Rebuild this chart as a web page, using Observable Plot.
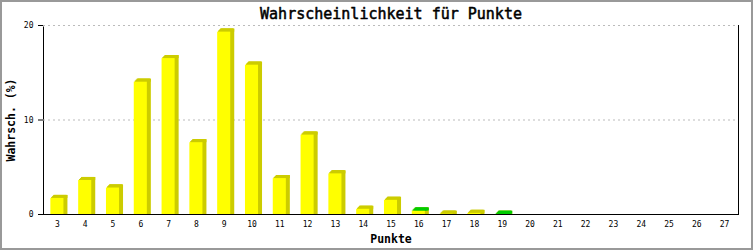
<!DOCTYPE html>
<html>
<head>
<meta charset="utf-8">
<script src="https://cdn.jsdelivr.net/npm/d3@7"></script>
<script src="https://cdn.jsdelivr.net/npm/@observablehq/plot@0.6"></script>
<style>
  html, body { margin: 0; padding: 0; background: #fff; }
  #chart svg { display: block; outline: 2px solid #999; outline-offset: -2px; }
</style>
</head>
<body>
<div id="chart"></div>
<script>
const title = "Wahrscheinlichkeit für Punkte";
const yLabel = "Wahrsch. (%)";
const xLabel = "Punkte";
const points = ["3","4","5","6","7","8","9","10","11","12","13","14","15","16","17","18","19","20","21","22","23","24","25","26","27"];
const yellowValues = [1.7, 3.6, 2.8, 14.0, 16.5, 7.6, 19.3, 15.8, 3.8, 8.4, 4.3, 0.55, 1.5, 0.35, 0.03, 0.12, 0, 0, 0, 0, 0, 0, 0, 0, 0];
const greenValues  = [0, 0, 0, 0, 0, 0, 0, 0, 0, 0, 0, 0, 0, 0.03, 0, 0, 0.03, 0, 0, 0, 0, 0, 0, 0, 0];
const yTicks = [0, 10, 20];

const YELLOW = "#ffff00", OLIVE = "#cccc00", GREEN = "#00cc00";

const rows = points.map((p, i) => ({
  p,
  yellow: yellowValues[i],
  green: greenValues[i],
  total: yellowValues[i] + greenValues[i],
  topFill: greenValues[i] > 0 ? GREEN : OLIVE
})).filter(d => d.total > 0);

const offsets = [[1,1],[2,2],[3,3],[4,3]];

const sideMarks = offsets.map(([k, d]) =>
  Plot.barY(rows, {x: "p", y1: 0, y2: "total", fill: OLIVE, dx: k, dy: -d, insetBottom: -d}));
const topMarks = offsets.map(([k, d]) =>
  Plot.barY(rows, {x: "p", y1: "total", y2: "total", fill: "topFill", dx: k, insetTop: -d}));

const chart = Plot.plot({
  width: 753,
  height: 250,
  marginLeft: 43,
  marginRight: 15,
  marginTop: 25,
  marginBottom: 36,
  style: {fontFamily: "DejaVu Sans Mono", fontSize: "8px", color: "#000", background: "#fff"},
  x: {domain: points, paddingInner: 0.53, paddingOuter: 0.265, round: false, axis: null},
  y: {domain: [0, 20], axis: null},
  marks: [
    Plot.frame({stroke: "#000"}),
    Plot.ruleY([20], {stroke: "#fff", strokeWidth: 2}),
    Plot.ruleY(yTicks.filter(t => t > 0), {stroke: "#bbb", strokeDasharray: "2,3"}),
    ...sideMarks,
    ...topMarks,
    Plot.barY(rows, {x: "p", y1: 0, y2: "yellow", fill: YELLOW}),
    Plot.barY(rows.filter(d => d.green > 0), {x: "p", y1: "yellow", y2: "total", fill: GREEN}),
    Plot.axisY({ticks: yTicks, tickSize: 5, tickPadding: 5, label: null, fontSize: 8, fill: "#000", tickFormat: d => String(d)}),
    Plot.axisX({tickSize: 0, tickPadding: 7, label: null, fontSize: 8, fill: "#000"}),
    Plot.ruleY([0], {stroke: "#000"}),
    Plot.text([title], {frameAnchor: "top", lineAnchor: "middle", dy: -11, fontSize: 15, fontWeight: "normal", stroke: "#000", strokeWidth: 0.5, fill: "#000", fontFamily: "DejaVu Sans Mono"}),
    Plot.text([yLabel], {frameAnchor: "left", textAnchor: "middle", lineAnchor: "middle", dx: -32, rotate: -90, fontSize: 11.5, fontWeight: "bold", fontFamily: "DejaVu Sans Mono"}),
    Plot.text([xLabel], {frameAnchor: "bottom", lineAnchor: "middle", dy: 25, fontSize: 11.5, fontWeight: "bold", fontFamily: "DejaVu Sans Mono"})
  ]
});
document.getElementById("chart").appendChild(chart);
</script>
</body>
</html>
